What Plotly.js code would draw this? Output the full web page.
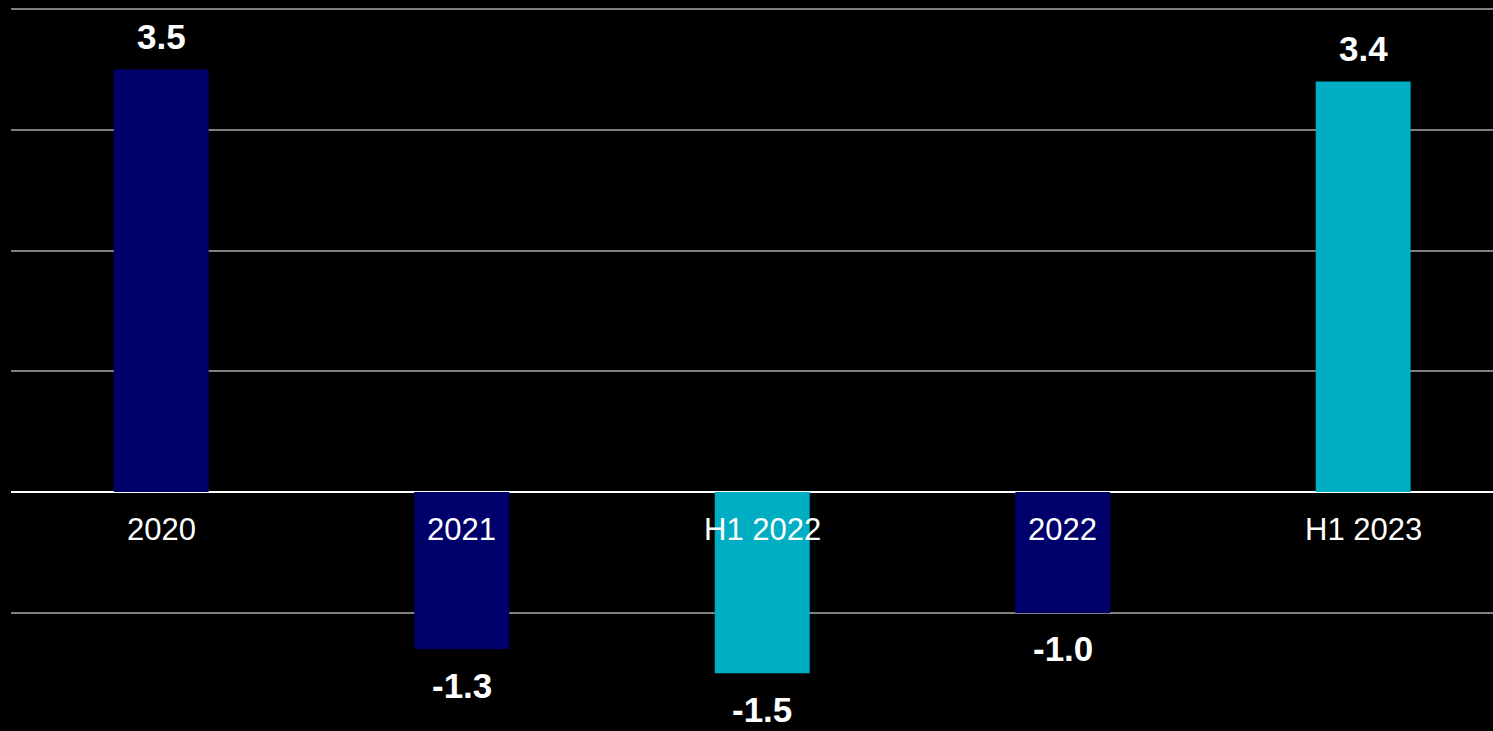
<!DOCTYPE html>
<html>
<head>
<meta charset="utf-8">
<script src="https://cdn.plot.ly/plotly-3.0.1.min.js"></script>
<style>
html,body{margin:0;padding:0;background:#000;overflow:hidden;}
#chart{width:1493px;height:731px;}
</style>
</head>
<body>
<div id="chart"></div>
<script>
const categories = ["2020", "2021", "H1 2022", "2022", "H1 2023"];
const values = [3.5, -1.3, -1.5, -1.0, 3.4];
const valueLabels = ["3.5", "-1.3", "-1.5", "-1.0", "3.4"];

const NAVY = "#00006B";
const CYAN = "#00AEC3";
const barColors = [NAVY, NAVY, CYAN, NAVY, CYAN];

const trace = {
  type: "bar",
  x: categories,
  y: values,
  marker: {color: barColors, line: {width: 0}},
  width: 0.316,
  hoverinfo: "skip"
};

const annotations = [];
categories.forEach((c, i) => {
  const v = values[i];
  // on a category axis, annotation x is the category index
  annotations.push({
    x: i, y: v, xref: "x", yref: "y",
    text: "<b>" + valueLabels[i] + "</b>",
    showarrow: false,
    yanchor: "middle",
    yshift: v >= 0 ? 33 : -36,
    font: {family: "Liberation Sans, Arial, sans-serif", size: 35, color: "#ffffff"}
  });
  annotations.push({
    x: i, y: 0, xref: "x", yref: "y",
    text: c,
    showarrow: false,
    yanchor: "middle",
    yshift: -37,
    font: {family: "Liberation Sans, Arial, sans-serif", size: 31, color: "#ffffff"}
  });
});

const layout = {
  width: 1493, height: 731,
  margin: {l: 11, r: 0, t: 0, b: 0, pad: 0},
  paper_bgcolor: "#000000",
  plot_bgcolor: "#000000",
  showlegend: false,
  xaxis: {
    type: "category",
    range: [-0.5, 4.432],
    showticklabels: false,
    showgrid: false,
    zeroline: false,
    showline: false,
    ticks: ""
  },
  yaxis: {
    range: [-1.978, 4.075],
    dtick: 1,
    tick0: 0,
    showticklabels: false,
    showgrid: true,
    gridcolor: "#808080",
    gridwidth: 2,
    zeroline: true,
    zerolinecolor: "#ffffff",
    zerolinewidth: 2,
    showline: false,
    ticks: ""
  },
  annotations: annotations
};

Plotly.newPlot("chart", [trace], layout, {staticPlot: true, displayModeBar: false});
</script>
</body>
</html>
